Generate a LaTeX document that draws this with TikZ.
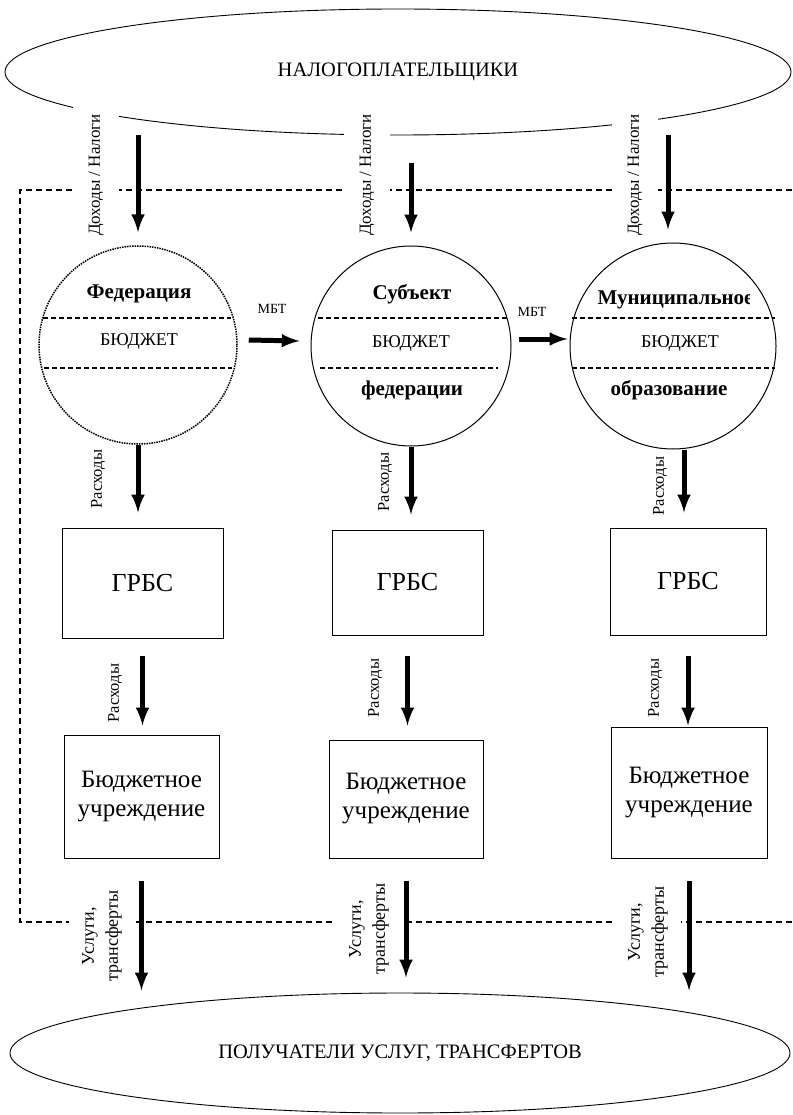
\documentclass[tikz,border=0pt]{standalone}
\usepackage{fontspec}
\setmainfont{Liberation Serif}
\usetikzlibrary{shapes.geometric}
\tikzset{
  bigarrow/.style={-latex, line width=5pt},
  frame/.style={line width=1.5pt, dash pattern=on 6pt off 4pt},
  divide/.style={line width=1.3pt, dash pattern=on 5pt off 3pt},
  box/.style={draw, line width=1pt},
  vlabel/.style={rotate=90, fill=white, inner sep=0pt, font=\fontsize{16.5}{20}\selectfont},
  toplabel/.style={vlabel, minimum width=136, minimum height=46, font=\fontsize{17}{20}\selectfont},
  botlabel/.style={vlabel, minimum width=100, minimum height=66, align=center, font=\fontsize{18}{24}\selectfont},
  bigtext/.style={font=\fontsize{20.5}{24}\selectfont},
  headtext/.style={font=\bfseries\fontsize{21}{24}\selectfont},
  budtext/.style={font=\fontsize{18}{22}\selectfont},
}
\begin{document}
\begin{tikzpicture}[x=1pt,y=-1pt]
    \useasboundingbox (0,0) rectangle (792,1115);
    % contribuyentes y receptores
    \node[ellipse, draw, line width=0.9pt, minimum width=786, minimum height=126, bigtext] (tax) at (398,72) {НАЛОГОПЛАТЕЛЬЩИКИ};
    \node[ellipse, draw, line width=0.9pt, minimum width=780, minimum height=120, bigtext] (recv) at (400,1053) {ПОЛУЧАТЕЛИ УСЛУГ, ТРАНСФЕРТОВ};
    % marco punteado
    \draw[frame] (792,190) -- (20,190) -- (20,922) -- (792,922);
    % presupuestos
    \node[circle, draw, densely dotted, line width=1.5pt, minimum size=198] (fed) at (138,345) {};
    \node[circle, draw, line width=1pt, minimum size=200] (subj) at (411,346) {};
    \node[circle, draw, line width=1pt, minimum size=206] (mun) at (673,346) {};
    \node[headtext] (fedtop) at (139,294) {Федерация};
    \draw[divide] (43,318) -- (231,318);
    \node[budtext] (fedmid) at (139,341) {БЮДЖЕТ};
    \draw[divide] (44,368) -- (232,368);
    \node[headtext] (subjtop) at (412,294) {Субъект};
    \draw[divide] (318,318) -- (510,318);
    \node[budtext] (subjmid) at (411,343) {БЮДЖЕТ};
    \draw[divide] (320,368) -- (498,368);
    \node[headtext] (subjbot) at (412,390) {федерации};
    \begin{scope}
        \clip (592,280) rectangle (749,322);
        \node[headtext, anchor=west] (muntop) at (594,300) {Муниципальное};
    \end{scope}
    \draw[divide] (572,318) -- (775,318);
    \node[budtext] (munmid) at (680,343) {БЮДЖЕТ};
    \draw[divide] (572,368) -- (775,368);
    \node[headtext] (munbot) at (669,390) {образование};
    \node[font=\fontsize{14}{16}\selectfont] (mbt1) at (272,309) {МБТ};
    \node[font=\fontsize{14}{16}\selectfont] (mbt2) at (532,312) {МБТ};
    % ГРБС
    \node[box, minimum width=161, minimum height=110, font=\fontsize{26}{30}\selectfont] (grbs1) at (142.5,583) {ГРБС};
    \node[box, minimum width=151, minimum height=105, font=\fontsize{26}{30}\selectfont] (grbs2) at (407.5,582.5) {ГРБС};
    \node[box, minimum width=156, minimum height=107, font=\fontsize{26}{30}\selectfont] (grbs3) at (688,581.5) {ГРБС};
    % учреждения
    \node[box, minimum width=155, minimum height=123, align=center, font=\fontsize{25}{29}\selectfont] (inst1) at (141.5,796.5) {Бюджетное\\учреждение};
    \node[box, minimum width=154, minimum height=118, align=center, font=\fontsize{25}{29}\selectfont] (inst2) at (406,799) {Бюджетное\\учреждение};
    \node[box, minimum width=156, minimum height=131, align=center, font=\fontsize{25}{29}\selectfont] (inst3) at (689,792.5) {Бюджетное\\учреждение};
    % etiquetas
    \node[toplabel] (inc1) at (96,175) {Доходы / Налоги};
    \node[toplabel] (inc2) at (367,175) {Доходы / Налоги};
    \node[toplabel] (inc3) at (635,175) {Доходы / Налоги};
    \node[vlabel] (exp1) at (98,479) {Расходы};
    \node[vlabel] (exp2) at (385,482) {Расходы};
    \node[vlabel] (exp3) at (660,486) {Расходы};
    \node[vlabel] (exp4) at (115,693) {Расходы};
    \node[vlabel] (exp5) at (375,688) {Расходы};
    \node[vlabel] (exp6) at (655,688) {Расходы};
    \node[botlabel] (out1) at (102,936) {Услуги,\\трансферты};
    \node[botlabel] (out2) at (369,929) {Услуги,\\трансферты};
    \node[botlabel] (out3) at (648,932) {Услуги,\\трансферты};
    % flechas
    \draw[bigarrow, shorten >=13pt] (fed.north |- tax.south) -- (fed.north);
    \draw[bigarrow, shorten <=28pt, shorten >=13pt] (subj.north |- tax.south) -- (subj.north);
    \draw[bigarrow, shorten >=13pt] ([xshift=-5pt]mun.north |- tax.south) -- ([xshift=-5pt]mun.north);
    \draw[bigarrow] ([shift={(11pt,5pt)}]fed.east) -- ([shift={(-11pt,5pt)}]subj.west);
    \draw[bigarrow] ([shift={(7pt,7pt)}]subj.east) -- ([shift={(-2pt,7pt)}]mun.west);
    \draw[bigarrow, shorten >=15pt] (fed.south) -- (fed.south |- grbs1.north);
    \draw[bigarrow, shorten >=15pt] (subj.south) -- (subj.south |- grbs2.north);
    \draw[bigarrow, shorten >=15pt] ([xshift=-4pt]grbs3.north |- mun.south) -- ([xshift=-4pt]grbs3.north);
    \draw[bigarrow] ([yshift=-17pt]grbs1.south) -- ++(0,70);
    \draw[bigarrow] ([yshift=-20pt]grbs2.south) -- ++(0,70);
    \draw[bigarrow] ([yshift=-20pt]grbs3.south) -- ++(0,70);
    \draw[bigarrow] ([yshift=-22pt]inst1.south) -- ++(0,110);
    \draw[bigarrow] ([yshift=-22pt]inst2.south) -- ++(0,97);
    \draw[bigarrow] ([yshift=-22pt]inst3.south) -- ++(0,110);
\end{tikzpicture}
\end{document}
